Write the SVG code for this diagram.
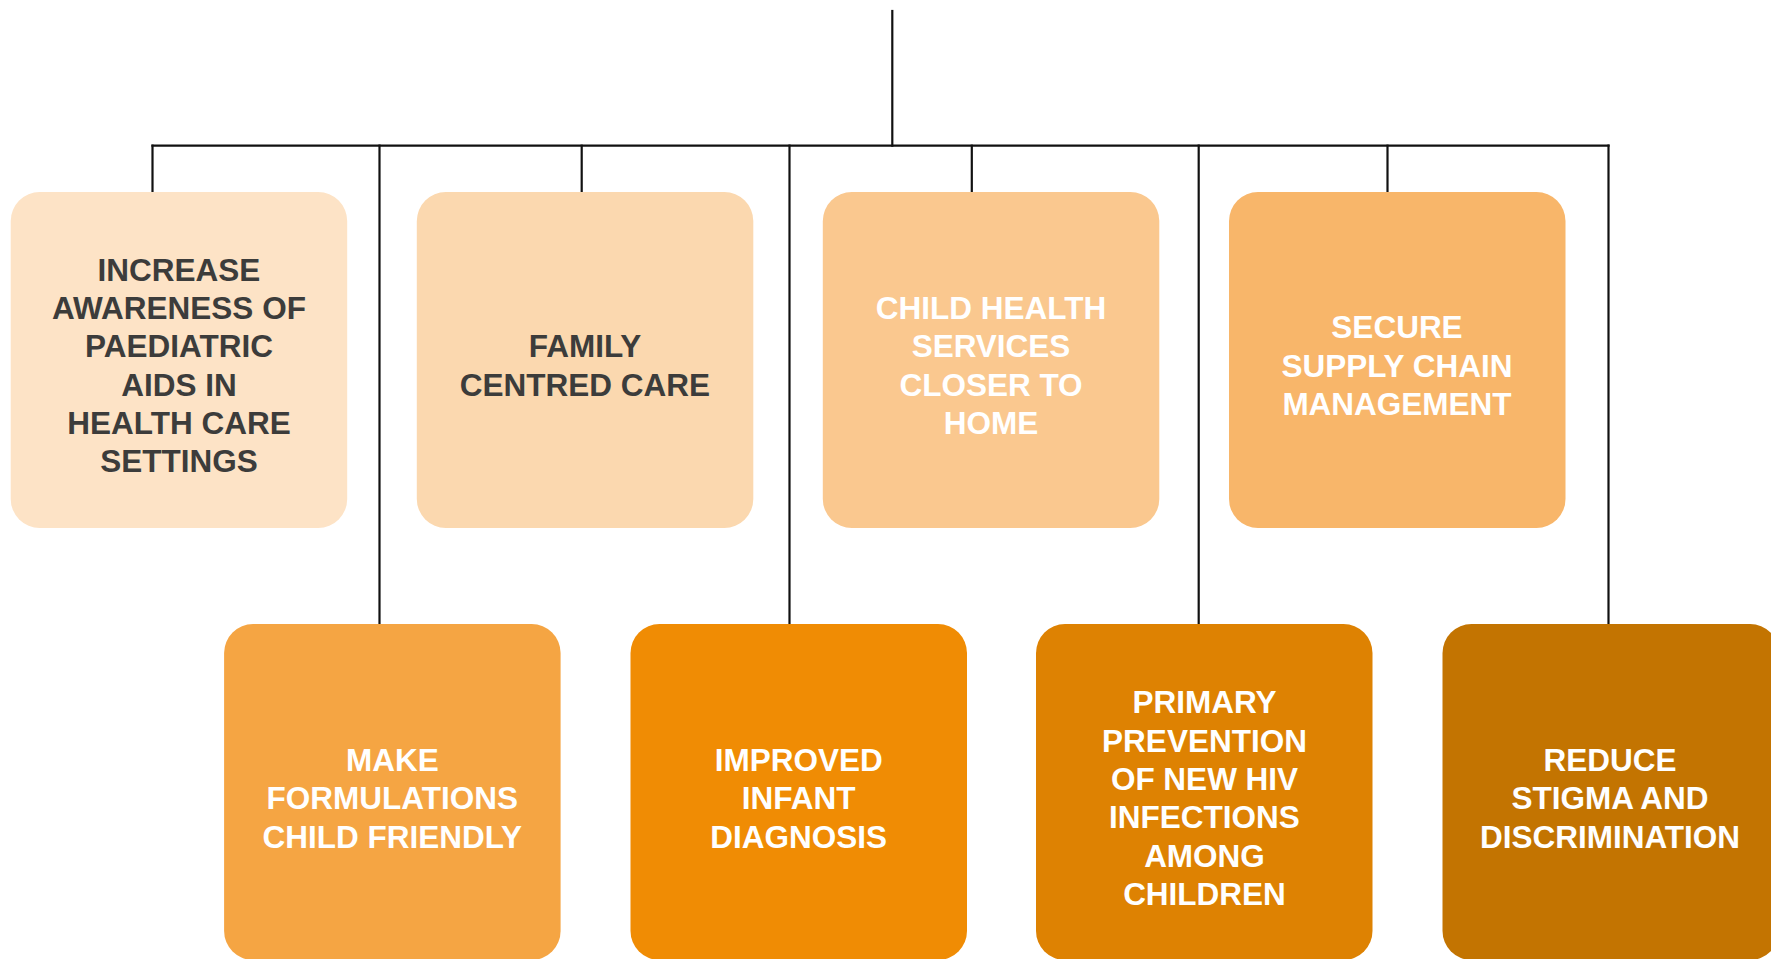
<svg xmlns="http://www.w3.org/2000/svg" width="1771" height="959" viewBox="0 0 1771 959">
<style>
.box{}
.t{font-family:"Liberation Sans",Arial,sans-serif;font-weight:bold;font-size:31.5px;text-anchor:middle}
.dark{fill:#3c3c3b}
.light{fill:#ffffff}
.conn{stroke:#111111;stroke-width:2.2;fill:none;stroke-linecap:square}
</style>
<rect width="1771" height="959" fill="#ffffff"/>
<g id="connectors" class="conn">
<path d="M892.3 11V145.7"/>
<path d="M152.5 145.7H1608.5"/>
<path d="M152.5 145.7V192"/>
<path d="M379.5 145.7V624"/>
<path d="M581.7 145.7V192"/>
<path d="M789.5 145.7V624"/>
<path d="M971.8 145.7V192"/>
<path d="M1198.7 145.7V624"/>
<path d="M1387.5 145.7V192"/>
<path d="M1608.5 145.7V624"/>
</g>
<g id="n1">
<rect x="10.7" y="192" width="336.5" height="336" rx="29" fill="#fde3c6"/>
<text class="t dark" x="179" y="280.7">INCREASE</text>
<text class="t dark" x="179" y="319">AWARENESS OF</text>
<text class="t dark" x="179" y="357.3">PAEDIATRIC</text>
<text class="t dark" x="179" y="395.6">AIDS IN</text>
<text class="t dark" x="179" y="434">HEALTH CARE</text>
<text class="t dark" x="179" y="472.3">SETTINGS</text>
</g>
<g id="n2">
<rect x="416.8" y="192" width="336.5" height="336" rx="29" fill="#fbd8af"/>
<text class="t dark" x="585" y="357.3">FAMILY</text>
<text class="t dark" x="585" y="395.6">CENTRED CARE</text>
</g>
<g id="n3">
<rect x="822.8" y="192" width="336.5" height="336" rx="29" fill="#fac88f"/>
<text class="t light" x="991" y="319">CHILD HEALTH</text>
<text class="t light" x="991" y="357.3">SERVICES</text>
<text class="t light" x="991" y="395.6">CLOSER TO</text>
<text class="t light" x="991" y="434">HOME</text>
</g>
<g id="n4">
<rect x="1229" y="192" width="336.5" height="336" rx="29" fill="#f8b66a"/>
<text class="t light" x="1397" y="338.2">SECURE</text>
<text class="t light" x="1397" y="376.5">SUPPLY CHAIN</text>
<text class="t light" x="1397" y="414.8">MANAGEMENT</text>
</g>
<g id="n5">
<rect x="224.1" y="624" width="336.5" height="336" rx="29" fill="#f5a543"/>
<text class="t light" x="392.3" y="771">MAKE</text>
<text class="t light" x="392.3" y="809.3">FORMULATIONS</text>
<text class="t light" x="392.3" y="847.6">CHILD FRIENDLY</text>
</g>
<g id="n6">
<rect x="630.5" y="624" width="336.5" height="336" rx="29" fill="#f08c04"/>
<text class="t light" x="798.7" y="771">IMPROVED</text>
<text class="t light" x="798.7" y="809.3">INFANT</text>
<text class="t light" x="798.7" y="847.6">DIAGNOSIS</text>
</g>
<g id="n7">
<rect x="1036" y="624" width="336.5" height="336" rx="29" fill="#de8202"/>
<text class="t light" x="1204.5" y="713.3">PRIMARY</text>
<text class="t light" x="1204.5" y="751.6">PREVENTION</text>
<text class="t light" x="1204.5" y="790">OF NEW HIV</text>
<text class="t light" x="1204.5" y="828.3">INFECTIONS</text>
<text class="t light" x="1204.5" y="866.6">AMONG</text>
<text class="t light" x="1204.5" y="904.9">CHILDREN</text>
</g>
<g id="n8">
<rect x="1442.5" y="624" width="336.5" height="336" rx="29" fill="#c37401"/>
<text class="t light" x="1610" y="771">REDUCE</text>
<text class="t light" x="1610" y="809.3">STIGMA AND</text>
<text class="t light" x="1610" y="847.6">DISCRIMINATION</text>
</g>
</svg>
